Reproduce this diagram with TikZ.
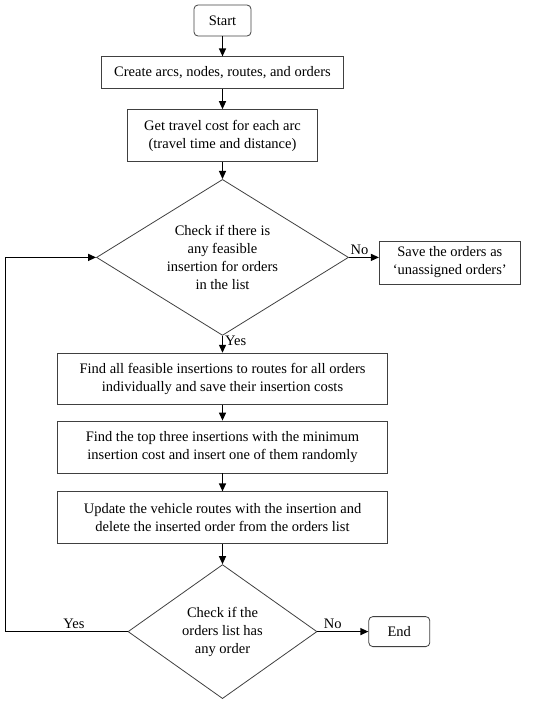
\documentclass[tikz,border=0pt]{standalone}
\usepackage{fontspec}
\setmainfont{Liberation Serif}
\usepackage{tikz}
\usetikzlibrary{positioning, shapes.geometric, arrows.meta}

\begin{document}
\begin{tikzpicture}[x=1pt, y=1pt,
	font=\fontsize{14.5}{18}\selectfont,
	proc/.style={draw=black!75, line width=0.8pt, align=center, inner sep=0pt},
	term/.style={proc, rounded corners=4pt},
	decide/.style={draw=black!75, line width=0.8pt, diamond, align=center, inner sep=0pt},
	line/.style={draw=black, line width=1.2pt, -{Triangle[length=8pt, width=7pt]}},
	lab/.style={font=\fontsize{14.5}{16}\selectfont, inner sep=2pt}]
	\useasboundingbox (0,0) rectangle (550,-704);
	% Steps
	\node[term, minimum width=57pt, minimum height=31pt] (start) at (222.5,-20.5) {Start};
	\node[proc, minimum width=242pt, minimum height=32pt, below=20pt of start] (create) {Create arcs, nodes, routes, and orders};
	\node[proc, minimum width=190pt, minimum height=52pt, below=20pt of create] (cost) {Get travel cost for each arc\\(travel time and distance)};
	\node[decide, aspect=1.6, minimum width=252pt, minimum height=156pt, below=17pt of cost] (feasible) {Check if there is\\any feasible\\insertion for orders\\in the list};
	\node[proc, minimum width=141pt, minimum height=43pt, right=30pt of feasible, yshift=-5pt] (save) {Save the orders as\\`unassigned orders'};
	\node[proc, minimum width=330pt, minimum height=51pt, below=17pt of feasible] (findall) {Find all feasible insertions to routes for all orders\\individually and save their insertion costs};
	\node[proc, minimum width=330pt, minimum height=52pt, below=16pt of findall] (topthree) {Find the top three insertions with the minimum\\insertion cost and insert one of them randomly};
	\node[proc, minimum width=330pt, minimum height=52pt, below=18pt of topthree] (update) {Update the vehicle routes with the insertion and\\delete the inserted order from the orders list};
	\node[decide, aspect=1.41, minimum width=189pt, minimum height=134pt, below=20pt of update] (check) {Check if the\\orders list has\\any order};
	\node[term, minimum width=61pt, minimum height=30pt, right=51pt of check] (end) {End};

	% Connections
	\draw[line] (start) -- (create);
	\draw[line] (create) -- (cost);
	\draw[line] (cost) -- (feasible);
	\draw[line] (feasible.east) -- node[lab, above, pos=0.35] {No} (feasible.east -| save.west);
	\draw[line] (feasible) -- node[lab, right, pos=0.3] {Yes} (findall);
	\draw[line] (findall) -- (topthree);
	\draw[line] (topthree) -- (update);
	\draw[line] (update) -- (check);
	\draw[line] (check) -- node[lab, above, pos=0.3] {No} (end);
	\draw[line] (check.west) -- node[lab, above, pos=0.44] {Yes} ++(-122,0) |- (feasible.west);
\end{tikzpicture}
\end{document}
